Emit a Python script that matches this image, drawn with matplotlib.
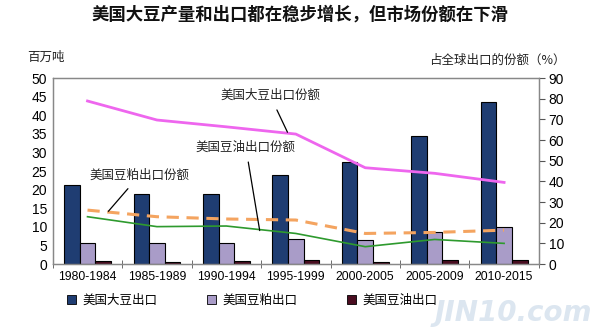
import numpy as np
import matplotlib
matplotlib.use('Agg')
from matplotlib import pyplot as plt
from matplotlib.patches import Patch

plt.rcParams['font.family'] = ['Liberation Sans', 'Noto Sans CJK SC', 'DejaVu Sans']

periods = ['1980-1984', '1985-1989', '1990-1994', '1995-1999',
           '2000-2005', '2005-2009', '2010-2015']
# exports, million tonnes
bean_export = [21.3, 18.8, 18.8, 24.0, 27.3, 34.4, 43.5]
meal_export = [5.7, 5.7, 5.7, 6.8, 6.5, 8.5, 10.0]
oil_export = [0.9, 0.6, 0.8, 1.0, 0.6, 1.2, 1.0]
# share of global exports, %
bean_share = [78.9, 69.7, 66.4, 62.9, 46.6, 43.9, 39.5]
meal_share = [26.1, 22.9, 21.8, 21.3, 14.8, 15.3, 16.4]
oil_share = [22.9, 18.1, 18.4, 14.8, 8.4, 11.9, 10.0]

c_bean = '#1f3d72'
c_meal = '#a99cc8'
c_oil = '#4a0d20'

fig = plt.figure(figsize=(6, 3.28), dpi=100)
ax = fig.add_axes([0.088, 0.195, 0.81, 0.567])
ax2 = ax.twinx()

x = np.arange(len(periods))
w = 0.225
ax.bar(x - w, bean_export, w, color=c_bean, edgecolor='black', linewidth=0.8, zorder=2)
ax.bar(x, meal_export, w, color=c_meal, edgecolor='black', linewidth=0.8, zorder=2)
ax.bar(x + w, oil_export, w, color=c_oil, edgecolor='black', linewidth=0.8, zorder=2)

ax2.plot(x, bean_share, color='#ee66ee', linewidth=2)
ax2.plot(x, meal_share, color='#f4a460', linewidth=2.2, linestyle=(0, (4, 2.5)))
ax2.plot(x, oil_share, color='#2e9a2e', linewidth=1.2)

ax.set_xlim(-0.5, len(periods) - 0.5)
ax.set_ylim(0, 50)
ax.set_yticks(range(0, 51, 5))
ax2.set_ylim(0, 90)
ax2.set_yticks(range(0, 91, 10))

ax.set_xticks(x)
ax.set_xticklabels(periods)
ax.set_xticks(np.arange(-0.5, len(periods)), minor=True)
ax.tick_params(axis='x', which='major', length=0, pad=5, labelsize=8.7)
ax.tick_params(axis='x', which='minor', length=6, direction='inout', color='#555555')
ax.tick_params(axis='y', length=0, labelsize=10, pad=4)
ax2.tick_params(axis='y', length=4, direction='out', color='#555555', labelsize=10, pad=3)

for a in (ax, ax2):
    for s in a.spines.values():
        s.set_color('#888888')
        s.set_linewidth(0.9)

ann = dict(fontsize=9, color='#222222', family=['Noto Sans CJK SC', 'DejaVu Sans'])
ax2.annotate('美国大豆出口份额', xy=(2.88, 63.8), xytext=(2.63, 81.5),
             ha='center', va='center',
             arrowprops=dict(arrowstyle='-', color='black', lw=0.9, shrinkA=4, shrinkB=0), **ann)
ax2.annotate('美国豆油出口份额', xy=(2.48, 16.2), xytext=(2.28, 56.5),
             ha='center', va='center',
             arrowprops=dict(arrowstyle='-', color='black', lw=0.9, shrinkA=4, shrinkB=0), **ann)
ax2.annotate('美国豆粕出口份额', xy=(0.3, 25.5), xytext=(0.75, 43),
             ha='center', va='center',
             arrowprops=dict(arrowstyle='-', color='black', lw=0.9, shrinkA=4, shrinkB=0), **ann)

fig.text(0.5, 0.955, '美国大豆产量和出口都在稳步增长，但市场份额在下滑',
         ha='center', va='center', fontsize=12.5, fontweight='bold',
         family=['Noto Sans CJK SC', 'DejaVu Sans'], color='#111111')
fig.text(0.045, 0.825, '百万吨', ha='left', va='center', fontsize=9,
         family=['Noto Sans CJK SC', 'DejaVu Sans'], color='#222222')
fig.text(0.942, 0.815, '占全球出口的份额（%）', ha='right', va='center', fontsize=9,
         family=['Noto Sans CJK SC', 'DejaVu Sans'], color='#222222')

handles = [Patch(facecolor=c_bean, edgecolor='black', linewidth=0.6),
           Patch(facecolor=c_meal, edgecolor='black', linewidth=0.6),
           Patch(facecolor=c_oil, edgecolor='black', linewidth=0.6)]
fig.legend(handles, ['美国大豆出口', '美国豆粕出口', '美国豆油出口'],
           loc='center', bbox_to_anchor=(0.42, 0.085), ncol=3, frameon=False,
           handlelength=0.7, handleheight=0.7, handletextpad=0.5, columnspacing=4.0,
           prop={'family': ['Noto Sans CJK SC', 'DejaVu Sans'], 'size': 9})

# faint watermark
fig.text(0.725, 0.045, 'JIN10.com', ha='left', va='center', fontsize=20, style='italic',
         fontweight='bold', color='#dce6f0', family='DejaVu Sans')

fig.savefig('out.png', dpi=100, facecolor='white')
